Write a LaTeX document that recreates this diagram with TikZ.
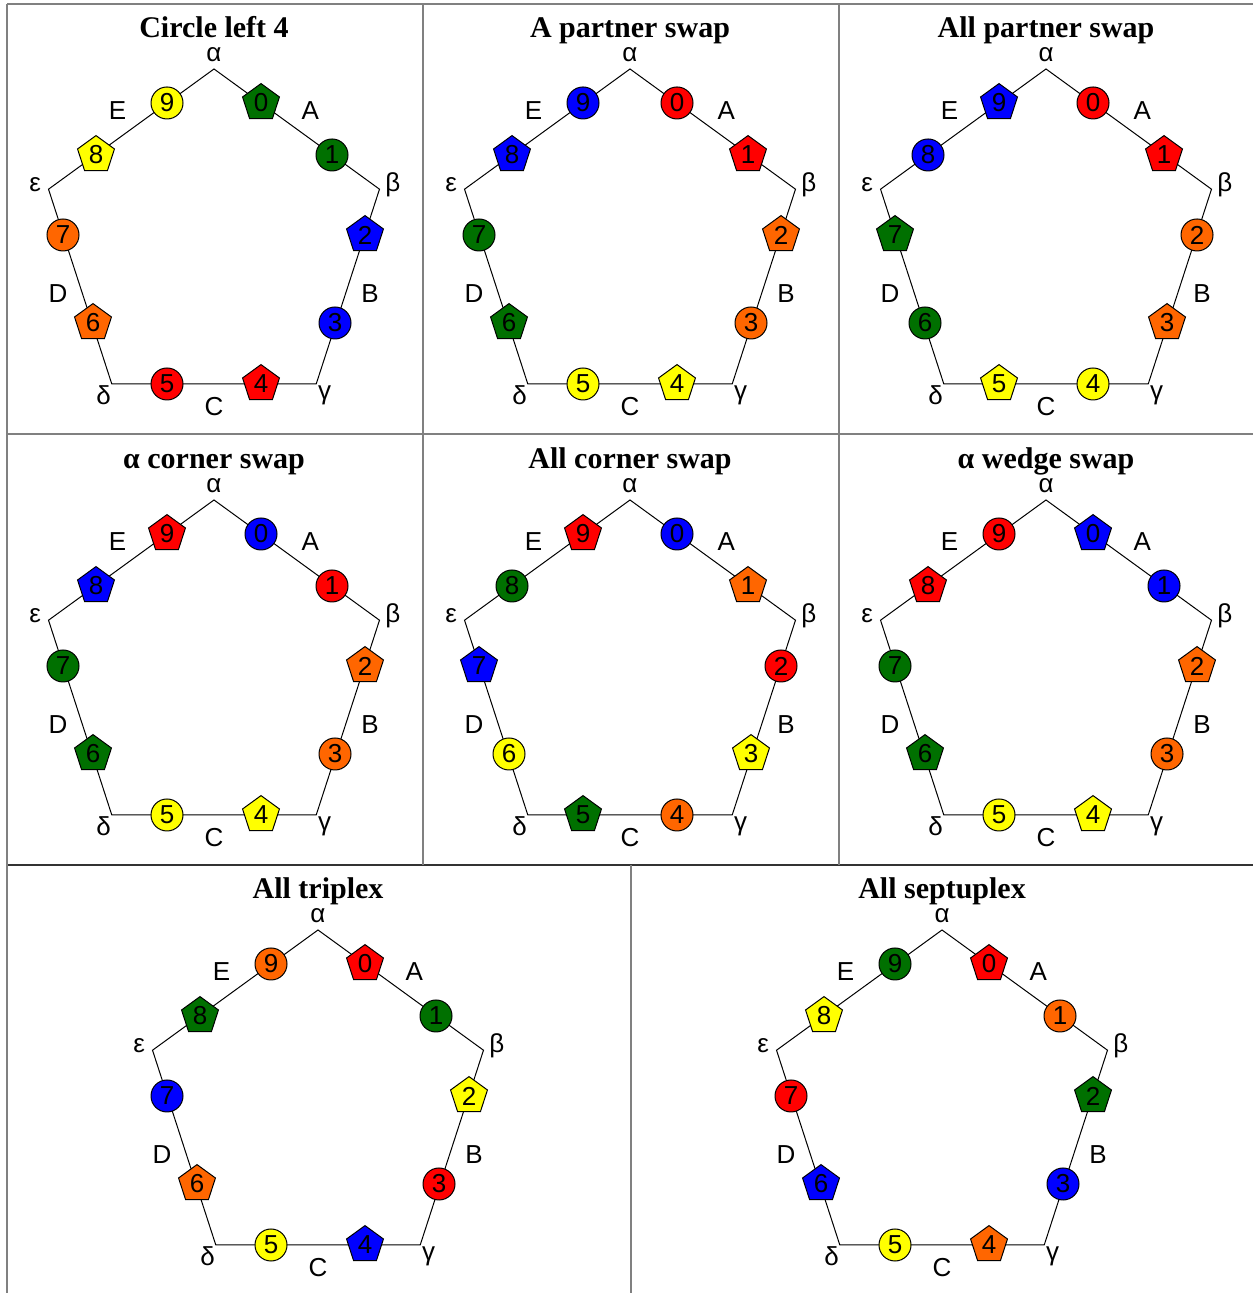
\documentclass[tikz,border=0pt]{standalone}
\usepackage{fontspec}
\setmainfont{Liberation Sans}
\newfontfamily\titlefont{Liberation Serif}
\usetikzlibrary{shapes.geometric}

\definecolor{ngreen}{RGB}{0,112,0}
\definecolor{nred}{RGB}{255,0,0}
\definecolor{nblue}{RGB}{0,0,255}
\definecolor{nyellow}{RGB}{255,255,0}
\definecolor{norange}{RGB}{255,102,0}

\tikzset{
	ring/.style={circle, draw, line width=0.5pt, minimum size=16pt, inner sep=0pt, font=\fontsize{13}{13}\selectfont},
	penta/.style={regular polygon, regular polygon sides=5, draw, line width=0.5pt, minimum size=19.4pt, inner sep=0pt, font=\fontsize{13}{13}\selectfont},
	lbl/.style={inner sep=0pt, font=\fontsize{13}{13}\selectfont},
	heading/.style={anchor=base, inner sep=0pt, font=\titlefont\bfseries\fontsize{15}{15}\selectfont},
	frame/.style={draw=gray, line width=1pt},
}

\newcommand{\pentapanel}[4]{%
	\begin{scope}[shift={#2}]
		\node[heading] (#1-title) at (0,205) {#3};
		\foreach \vx/\ang/\txt in {a/90/α, b/18/β, c/-54/γ, d/-126/δ, e/162/ε} {
			\coordinate (#1-\vx) at (\ang:174);
			\node[lbl] (#1-l\vx) at (\ang:188) {\txt};
		}
		\foreach \ang/\txt [count=\i] in {54/A, -18/B, -90/C, -162/D, 126/E}
			\node[lbl] (#1-side\i) at (\ang:164) {\txt};
		\draw[line width=0.5pt] (#1-a) -- (#1-b) -- (#1-c) -- (#1-d) -- (#1-e) -- cycle;
		\foreach \k/\x/\y in {0/47/140, 1/118/88, 2/151/8, 3/121/-80, 4/47/-141, 5/-47/-141, 6/-121/-80, 7/-151/8, 8/-118/88, 9/-47/140}
			\coordinate (#1-s\k) at (\x,\y);
		\foreach \shp/\col [count=\k from 0] in {#4}
			\node[\shp, fill=\col] (#1-n\k) at (#1-s\k) {\k};
	\end{scope}}

\begin{document}
\begin{tikzpicture}[x=0.5pt, y=0.5pt]
	\useasboundingbox (0,0) rectangle (1253,1293);

	\draw[frame] (7,1289) -- (1253,1289);
	\draw[frame] (7,859) -- (1253,859);
	\draw[frame, draw=black!80] (7,428) -- (1253,428);
	\draw[frame] (7,0) -- (7,1289);
	\draw[frame] (423,428) -- (423,1289);
	\draw[frame] (839,428) -- (839,1289);
	\draw[frame] (631,0) -- (631,428);

	\pentapanel{cl}{(214,1050)}{Circle left 4}{penta/ngreen, ring/ngreen, penta/nblue, ring/nblue, penta/nred, ring/nred, penta/norange, ring/norange, penta/nyellow, ring/nyellow}
	\pentapanel{ap}{(630,1050)}{A partner swap}{ring/nred, penta/nred, penta/norange, ring/norange, penta/nyellow, ring/nyellow, penta/ngreen, ring/ngreen, penta/nblue, ring/nblue}
	\pentapanel{allp}{(1046,1050)}{All partner swap}{ring/nred, penta/nred, ring/norange, penta/norange, ring/nyellow, penta/nyellow, ring/ngreen, penta/ngreen, ring/nblue, penta/nblue}

	\pentapanel{ac}{(214,619)}{α corner swap}{ring/nblue, ring/nred, penta/norange, ring/norange, penta/nyellow, ring/nyellow, penta/ngreen, ring/ngreen, penta/nblue, penta/nred}
	\pentapanel{allc}{(630,619)}{All corner swap}{ring/nblue, penta/norange, ring/nred, penta/nyellow, ring/norange, penta/ngreen, ring/nyellow, penta/nblue, ring/ngreen, penta/nred}
	\pentapanel{aw}{(1046,619)}{α wedge swap}{penta/nblue, ring/nblue, penta/norange, ring/norange, penta/nyellow, ring/nyellow, penta/ngreen, ring/ngreen, penta/nred, ring/nred}

	\pentapanel{tri}{(318,189)}{All triplex}{penta/nred, ring/ngreen, penta/nyellow, ring/nred, penta/nblue, ring/nyellow, penta/norange, ring/nblue, penta/ngreen, ring/norange}
	\pentapanel{sep}{(942,189)}{All septuplex}{penta/nred, ring/norange, penta/ngreen, ring/nblue, penta/norange, ring/nyellow, penta/nblue, ring/nred, penta/nyellow, ring/ngreen}

\end{tikzpicture}
\end{document}
